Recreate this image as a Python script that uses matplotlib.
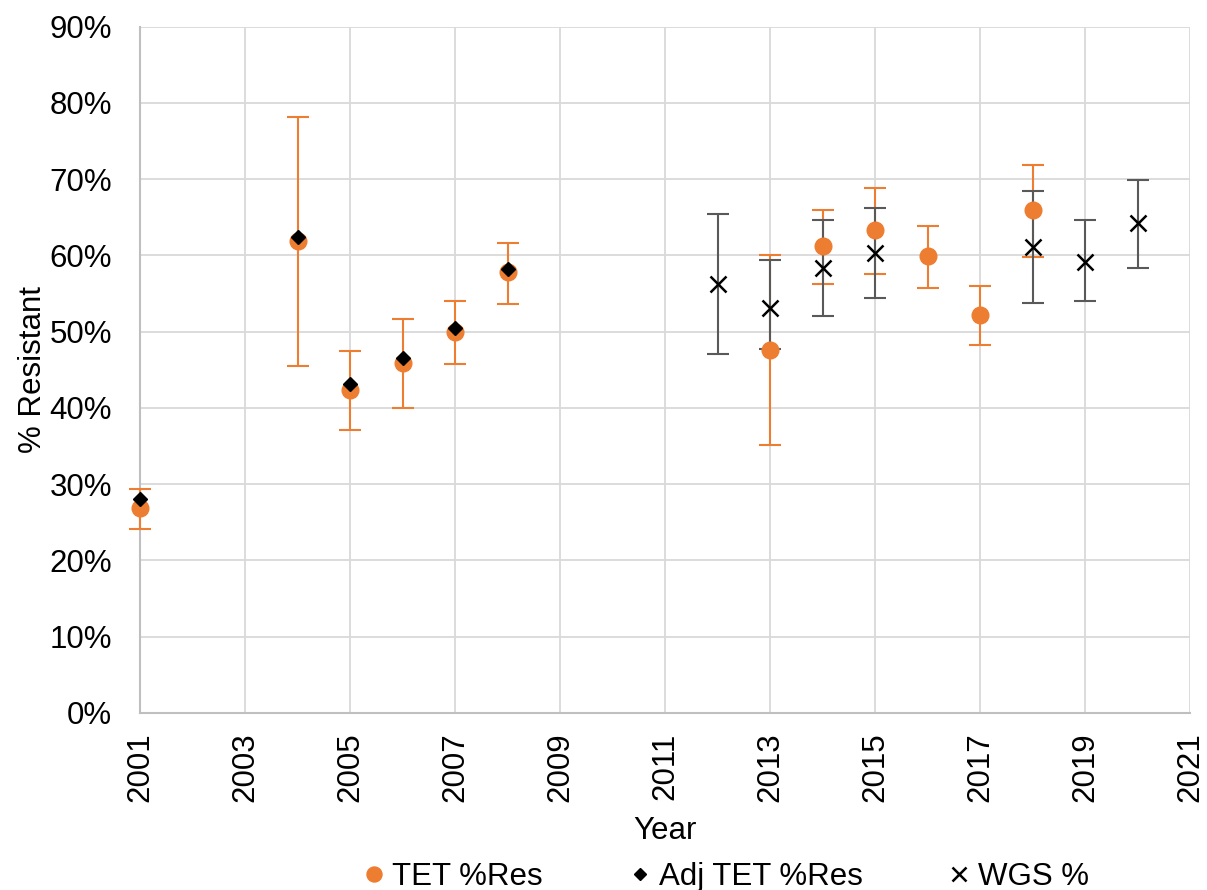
import matplotlib
matplotlib.use("Agg")
import matplotlib.pyplot as plt
from matplotlib.ticker import PercentFormatter
import numpy as np

plt.rcParams['font.family'] = ['Liberation Sans', 'DejaVu Sans']

# TET %Res with 95% CI
tet_years = [2001, 2004, 2005, 2006, 2007, 2008, 2013, 2014, 2015, 2016, 2017, 2018]
tet_res = [0.269, 0.619, 0.423, 0.459, 0.500, 0.578, 0.476, 0.612, 0.633, 0.599, 0.522, 0.659]
tet_low = [0.241, 0.455, 0.371, 0.400, 0.458, 0.536, 0.351, 0.563, 0.575, 0.557, 0.482, 0.598]
tet_high = [0.294, 0.782, 0.474, 0.516, 0.540, 0.616, 0.601, 0.660, 0.689, 0.639, 0.560, 0.718]

# adjusted TET %Res
adj_years = [2001, 2004, 2005, 2006, 2007, 2008]
adj_res = [0.280, 0.624, 0.432, 0.466, 0.505, 0.582]

# WGS % with 95% CI
wgs_years = [2012, 2013, 2014, 2015, 2018, 2019, 2020]
wgs_res = [0.563, 0.531, 0.583, 0.603, 0.611, 0.592, 0.642]
wgs_low = [0.471, 0.477, 0.521, 0.544, 0.538, 0.540, 0.584]
wgs_high = [0.654, 0.594, 0.646, 0.662, 0.684, 0.646, 0.699]

ORANGE = '#ED7D31'
GREY = '#595959'
FS = 22.5

fig = plt.figure(figsize=(12.07, 8.9), dpi=100)
ax = fig.add_axes([0.116, 0.199, 0.870, 0.771])

tet_err = [np.array(tet_res) - np.array(tet_low), np.array(tet_high) - np.array(tet_res)]
wgs_err = [np.array(wgs_res) - np.array(wgs_low), np.array(wgs_high) - np.array(wgs_res)]

ax.errorbar(tet_years, tet_res, yerr=tet_err, fmt='none', ecolor=ORANGE, elinewidth=1.5,
            capsize=8, capthick=1.5, zorder=3, clip_on=False)
ax.errorbar(wgs_years, wgs_res, yerr=wgs_err, fmt='none', ecolor=GREY, elinewidth=1.5,
            capsize=8, capthick=1.5, zorder=3.5, clip_on=False)
ax.plot(tet_years, tet_res, 'o', color=ORANGE, markersize=12, label='TET %Res', zorder=5, clip_on=False)
ax.plot(adj_years, adj_res, 'D', color='black', markersize=7, label='Adj TET %Res', zorder=6, clip_on=False)
ax.plot(wgs_years, wgs_res, 'x', color='black', markersize=11, markeredgewidth=1.8,
        label='WGS %', zorder=7, clip_on=False)

ax.set_xlim(2001, 2021)
ax.set_ylim(0, 0.9)
ax.set_xticks(np.arange(2001, 2022, 2))
ax.set_yticks(np.arange(0, 0.91, 0.1))
ax.yaxis.set_major_formatter(PercentFormatter(xmax=1.0, decimals=0))
ax.tick_params(axis='x', labelrotation=90, length=0, pad=14, labelsize=FS)
ax.tick_params(axis='y', length=0, pad=20, labelsize=FS)

ax.grid(True, color='#D9D9D9', linewidth=1.3)
ax.set_axisbelow(True)
for side in ['top', 'right']:
    ax.spines[side].set_visible(False)
for side in ['left', 'bottom']:
    ax.spines[side].set_color('#BFBFBF')
    ax.spines[side].set_linewidth(1.5)

ax.set_xlabel('Year', fontsize=FS, labelpad=10)
ax.set_ylabel('% Resistant', fontsize=FS, labelpad=1)

handles, labels = ax.get_legend_handles_labels()
fig.legend(handles, labels, loc='center', bbox_to_anchor=(0.602, 0.0146), ncol=3, frameon=False,
           fontsize=FS, handlelength=0.6, handletextpad=0.3, columnspacing=2.8, markerscale=0.9)

fig.savefig('out.png', dpi=100)
